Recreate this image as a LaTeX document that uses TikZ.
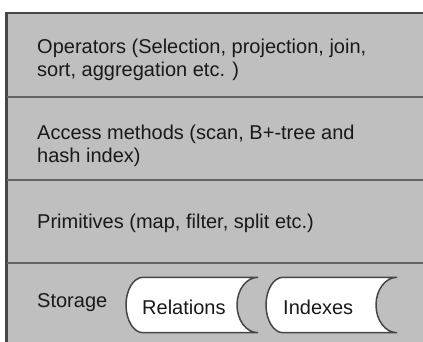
\documentclass[tikz,border=0pt]{standalone}
\usepackage{fontspec}
\setmainfont{Liberation Sans}
\definecolor{layergray}{RGB}{191,191,191}
\definecolor{edgegray}{RGB}{70,70,70}
\definecolor{rulegray}{RGB}{100,100,100}

\begin{document}
\begin{tikzpicture}[x=1pt,y=-1pt]
    \tikzstyle{every node}+=[inner sep=0pt]
    \tikzstyle{layertext}=[anchor=base west, align=left, text=black!90, font=\fontsize{20}{23}\selectfont]
    \tikzstyle{storebox}=[draw=edgegray, fill=white, line width=1.5pt]
    \useasboundingbox (0,0) rectangle (423,341);
    \fill [layergray] (6.5,13) rectangle (430,350);
    \draw [edgegray, line width=2.5pt] (430,13) -- (6.5,13) -- (6.5,350);
    \draw [rulegray, line width=2pt] (6.5,96.5) -- (430,96.5);
    \draw [rulegray, line width=2pt] (6.5,180) -- (430,180);
    \draw [rulegray, line width=2pt] (6.5,263) -- (430,263);
    \node [layertext] (ops) at (37,76) {Operators (Selection, projection, join,\\sort, aggregation etc. )};
    \node [layertext] (access) at (37,162) {Access methods (scan, B+-tree and\\hash index)};
    \node [layertext] (prims) at (37,228) {Primitives (map, filter, split etc.)};
    \node [layertext] (storage) at (37,307) {Storage};
    \draw [storebox] (258,277.3) -- (143,277.3) arc (270:90:17 and 27.7) -- (258,332.7) arc (90:270:21 and 27.7) -- cycle;
    \node [layertext] (rel) at (142,314) {Relations};
    \draw [storebox] (397,277.3) -- (283,277.3) arc (270:90:17 and 27.7) -- (397,332.7) arc (90:270:21 and 27.7) -- cycle;
    \node [layertext] (idx) at (283,314) {Indexes};
\end{tikzpicture}
\end{document}
